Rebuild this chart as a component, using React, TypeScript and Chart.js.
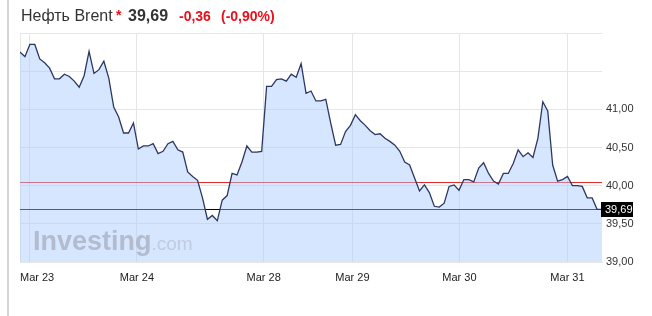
import React, { useEffect, useRef } from "react";
import { Chart, registerables } from "chart.js";

Chart.register(...registerables);

const TITLE = "Нефть Brent";
const LAST_TEXT = "39,69";
const CHANGE_TEXT = "-0,36";
const CHANGE_PCT_TEXT = "(-0,90%)";

const prices: number[] = [
  41.75, 41.69, 41.85, 41.85, 41.66, 41.61, 41.54, 41.40, 41.40, 41.46,
  41.43, 41.37, 41.29, 41.44, 41.76, 41.47, 41.52, 41.63, 41.41, 41.03,
  40.90, 40.69, 40.69, 40.82, 40.48, 40.52, 40.52, 40.55, 40.42, 40.45,
  40.55, 40.58, 40.47, 40.44, 40.18, 40.12, 40.07, 39.84, 39.56, 39.61,
  39.54, 39.81, 39.87, 40.16, 40.14, 40.31, 40.52, 40.44, 40.44, 40.45,
  41.30, 41.30, 41.39, 41.40, 41.37, 41.46, 41.42, 41.60, 41.21, 41.24,
  41.11, 41.11, 41.13, 40.82, 40.53, 40.54, 40.71, 40.79, 40.93, 40.85,
  40.79, 40.72, 40.67, 40.68, 40.62, 40.58, 40.53, 40.45, 40.31, 40.27,
  40.10, 39.93, 40.01, 39.91, 39.73, 39.72, 39.77, 39.99, 40.01, 39.94,
  40.08, 40.08, 40.05, 40.23, 40.30, 40.16, 40.06, 40.02, 40.16, 40.16,
  40.29, 40.47, 40.38, 40.43, 40.37, 40.62, 41.10, 40.98, 40.27, 40.06,
  40.08, 40.12, 40.00, 40.00, 39.99, 39.84, 39.84, 39.69, 39.69,
];

const dayTickPositions: number[] = [2, 23.7, 49.4, 67.4, 89.1, 111];
const dayLabels: string[] = ["Mar 23", "Mar 24", "Mar 28", "Mar 29", "Mar 30", "Mar 31"];

const prevClose = 40.05;
const lastPrice = 39.69;
const yMin = 39;
const yMax = 42;
const yStep = 0.5;
const yLabelMax = 41;

const FONT = "'Liberation Sans', Arial, sans-serif";

const fmt = (v: number) => v.toFixed(2).replace(".", ",");

const decorPlugin = {
  id: "decor",
  beforeDatasetsDraw(chart: any) {
    const { ctx, chartArea } = chart;
    const y = chart.scales.y;
    ctx.save();
    ctx.strokeStyle = "#e6e6e6";
    ctx.lineWidth = 1;
    ctx.beginPath();
    ctx.moveTo(chartArea.left + 0.5, chartArea.top);
    ctx.lineTo(chartArea.left + 0.5, chartArea.bottom);
    ctx.stroke();
    const yp = Math.round(y.getPixelForValue(prevClose)) + 0.5;
    ctx.strokeStyle = "#e32b2b";
    ctx.beginPath();
    ctx.moveTo(chartArea.left, yp);
    ctx.lineTo(chartArea.right, yp);
    ctx.stroke();
    const yl = Math.round(y.getPixelForValue(lastPrice)) + 0.5;
    ctx.strokeStyle = "#000";
    ctx.beginPath();
    ctx.moveTo(chartArea.left, yl);
    ctx.lineTo(chartArea.right, yl);
    ctx.stroke();
    ctx.restore();
  },
  afterDatasetsDraw(chart: any) {
    const { ctx, chartArea } = chart;
    ctx.save();
    ctx.textBaseline = "alphabetic";
    ctx.textAlign = "left";
    const x0 = chartArea.left + 13;
    const yb = chartArea.bottom - 12;
    ctx.font = `bold 27px ${FONT}`;
    ctx.fillStyle = "rgba(135,138,146,0.45)";
    ctx.fillText("Investing", x0, yb);
    const w = ctx.measureText("Investing").width;
    ctx.font = `19px ${FONT}`;
    ctx.fillStyle = "rgba(135,138,146,0.3)";
    ctx.fillText(".com", x0 + w, yb);
    ctx.restore();
  },
  afterDraw(chart: any) {
    const { ctx, chartArea } = chart;
    const xs = chart.scales.x;
    const ys = chart.scales.y;
    ctx.save();
    ctx.fillStyle = "#d4d4d4";
    ctx.fillRect(7, 0, 2, chart.height);

    ctx.font = `11px ${FONT}`;
    ctx.fillStyle = "#222";
    ctx.textBaseline = "middle";
    ctx.textAlign = "left";
    dayTickPositions.forEach((v, i) => {
      const px = xs.getPixelForValue(v);
      const tw = ctx.measureText(dayLabels[i]).width;
      const left = Math.max(chartArea.left, px - tw / 2);
      ctx.fillText(dayLabels[i], left, chartArea.bottom + 16);
    });

    const yl = Math.round(ys.getPixelForValue(lastPrice));
    ctx.fillStyle = "#000";
    ctx.fillRect(chartArea.right - 1, yl - 7, 32, 15);
    ctx.fillStyle = "#fff";
    ctx.font = `11px ${FONT}`;
    ctx.fillText(fmt(lastPrice), chartArea.right + 3, yl + 0.5);

    ctx.textBaseline = "alphabetic";
    ctx.font = `16px ${FONT}`;
    ctx.fillStyle = "#333";
    ctx.fillText(TITLE, 21, 21);
    ctx.font = `bold 14px ${FONT}`;
    ctx.fillStyle = "#e8101a";
    ctx.fillText("*", 116, 20);
    ctx.font = `bold 16px ${FONT}`;
    ctx.fillStyle = "#333";
    ctx.fillText(LAST_TEXT, 128, 21);
    ctx.font = `bold 14px ${FONT}`;
    ctx.fillStyle = "#e8101a";
    ctx.fillText(CHANGE_TEXT, 179, 21);
    ctx.fillText(CHANGE_PCT_TEXT, 221, 21);
    ctx.restore();
  },
};

export default function App() {
  const ref = useRef<HTMLCanvasElement | null>(null);
  useEffect(() => {
    if (!ref.current) return;
    const chart = new Chart(ref.current, {
      type: "line",
      data: {
        datasets: [
          {
            data: prices.map((p, i) => ({ x: i, y: p })),
            borderColor: "#2c3864",
            borderWidth: 1.3,
            backgroundColor: "rgba(170,202,255,0.47)",
            fill: "start",
            pointRadius: 0,
            tension: 0,
          },
        ],
      },
      options: {
        animation: false,
        responsive: false,
        maintainAspectRatio: false,
        layout: { padding: { left: 20, top: 33, right: 0, bottom: 0 } },
        plugins: { legend: { display: false }, tooltip: { enabled: false } },
        scales: {
          x: {
            type: "linear",
            min: 0,
            max: prices.length - 1,
            afterBuildTicks: (axis: any) => {
              axis.ticks = dayTickPositions.map((v) => ({ value: v }));
            },
            afterFit: (axis: any) => {
              axis.height = 54;
            },
            grid: { color: "#e6e6e6", lineWidth: 1, drawTicks: false },
            border: { display: true, color: "#e6e6e6" },
            ticks: { display: false },
          },
          y: {
            position: "right",
            min: yMin,
            max: yMax,
            afterFit: (axis: any) => {
              axis.width = 50;
            },
            grid: { color: "#e6e6e6", lineWidth: 1, drawTicks: false },
            border: { display: false },
            ticks: {
              stepSize: yStep,
              padding: 4,
              color: "#333",
              font: { family: FONT, size: 11 },
              callback: (v: any) => (Number(v) > yLabelMax + 0.001 ? "" : fmt(Number(v))),
            },
          },
        },
      },
      plugins: [decorPlugin],
    });
    return () => chart.destroy();
  }, []);
  return (
    <div style={{ position: "fixed", left: 0, top: 0, width: 652, height: 316, background: "#fff" }}>
      <canvas ref={ref} width={652} height={316} style={{ display: "block" }} />
    </div>
  );
}
